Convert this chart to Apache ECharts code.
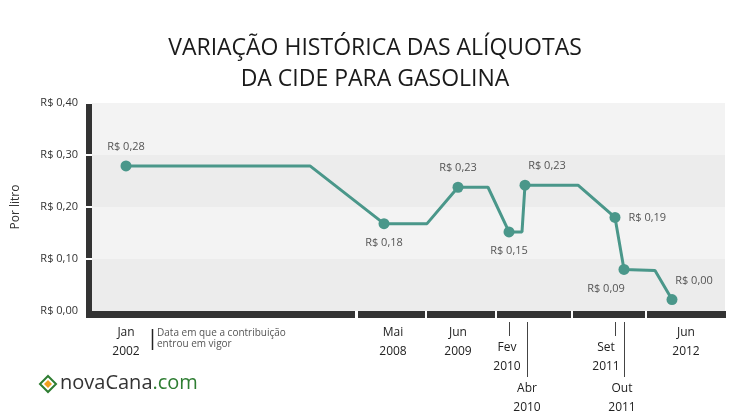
<!DOCTYPE html>
<html><head><meta charset="utf-8">
<script src="https://cdn.jsdelivr.net/npm/echarts@6/dist/echarts.min.js"></script>
<style>html,body{margin:0;background:#fff}#c{width:750px;height:418px}</style>
</head><body><div id="c"></div>
<script>
// path vertices (x in horizontal units, y in R$/litro)
var xs = [34, 218, 292, 335, 366, 396, 417, 430, 433, 486, 523, 532, 563, 580];
var ys = [0.279, 0.279, 0.168, 0.168, 0.238, 0.238, 0.152, 0.152, 0.242, 0.242, 0.180, 0.080, 0.078, 0.022];
var pointLabels = ['R$ 0,28', '', 'R$ 0,18', '', 'R$ 0,23', '', 'R$ 0,15', '', 'R$ 0,23', '', 'R$ 0,19', 'R$ 0,09', '', 'R$ 0,00'];
var labelPos = ['top', '', 'bottom', '', 'top', '', 'bottom', '', 'top', '', 'right', 'bottom', '', 'top'];
var yTicks = [0, 0.1, 0.2, 0.3, 0.4];
// bottom date labels
var dateX = [34, 301, 366, 417, 435, 523, 532, 594];
var dateText = ['Jan\n2002', 'Mai\n2008', 'Jun\n2009', 'Fev\n2010', 'Abr\n2010', 'Set\n2011', 'Out\n2011', 'Jun\n2012'];
var dateTop = [323, 323, 323, 338, 379, 338, 379, 323];
var dateLine = [false, false, false, true, true, true, true, false];
var barBreaks = [265, 334, 404, 480, 554];

var chart = echarts.init(document.getElementById('c'));
var font = '"Open Sans", sans-serif';

var data = xs.map(function (x, i) {
  var d = { value: [x, ys[i]] };
  if (pointLabels[i]) {
    d.symbolSize = 11;
    d.label = { show: true, formatter: pointLabels[i], position: labelPos[i], distance: 8 };
    if (i === 11) d.label.offset = [-18, 0];
    if (i === 8 || i === 13) d.label.offset = [22, 0];
  } else {
    d.symbolSize = 0;
  }
  return d;
});

chart.setOption({
  animation: false,
  title: {
    text: 'VARIAÇÃO HISTÓRICA DAS ALÍQUOTAS\nDA CIDE PARA GASOLINA',
    left: 'center', top: 28,
    textStyle: { fontFamily: font, fontWeight: 'normal', fontSize: 23, color: '#1a1a1a', lineHeight: 31 }
  },
  grid: { left: 92, right: 25, top: 103, bottom: 107 },
  xAxis: {
    type: 'value', min: 0, max: 633,
    axisLine: { show: false }, axisTick: { show: false }, axisLabel: { show: false }, splitLine: { show: false }
  },
  yAxis: {
    type: 'value', min: 0, max: 0.4, interval: 0.1,
    name: 'Por litro', nameLocation: 'middle', nameGap: 70,
    nameTextStyle: { fontFamily: font, fontSize: 12, color: '#333' },
    axisLine: { show: false }, axisTick: { show: false },
    axisLabel: { margin: 14, fontFamily: font, fontSize: 11, color: '#333',
      formatter: function (v) { return 'R$ ' + v.toFixed(2).replace('.', ','); } },
    splitLine: { show: false },
    splitArea: { show: true, areaStyle: { color: ['#ececec', '#f3f3f3'] } }
  },
  series: [{
    type: 'line', data: data, symbol: 'circle',
    lineStyle: { color: '#4a978a', width: 3 },
    itemStyle: { color: '#4a978a' },
    label: { fontFamily: font, fontSize: 11, color: '#555' }
  }]
});

var g = [];
var p0 = chart.convertToPixel({ gridIndex: 0 }, [0, 0]);
var left = p0[0], bottom = p0[1];
// segmented left bar
for (var i = 0; i < yTicks.length - 1; i++) {
  var ya = chart.convertToPixel({ gridIndex: 0 }, [0, yTicks[i]])[1];
  var yb = chart.convertToPixel({ gridIndex: 0 }, [0, yTicks[i + 1]])[1];
  g.push({ type: 'rect', shape: { x: left - 6, y: yb + 1, width: 6, height: ya - yb - 2 + (i === 0 ? 7 : 0) },
    style: { fill: '#333' } });
}
// segmented bottom bar
var edges = [0].concat(barBreaks, [633]);
for (var j = 0; j < edges.length - 1; j++) {
  var xa = chart.convertToPixel({ gridIndex: 0 }, [edges[j], 0])[0];
  var xb = chart.convertToPixel({ gridIndex: 0 }, [edges[j + 1], 0])[0];
  g.push({ type: 'rect', shape: { x: (j === 0 ? left - 6 : xa + 1), y: bottom, width: xb - xa - 2 + (j === 0 ? 6 : 0) + (j === edges.length - 2 ? 2 : 0), height: 7 },
    style: { fill: '#333' } });
}
// date labels
dateX.forEach(function (x, k) {
  var px = chart.convertToPixel({ gridIndex: 0 }, [x, 0])[0];
  var tx = px;
  if (k === 3) tx = px - 2;
  if (k === 5) tx = px - 9;
  if (k === 6) tx = px - 2;
  g.push({ type: 'text', x: tx, y: dateTop[k], style: { text: dateText[k], fontFamily: font, fontSize: 12,
    fill: '#222', align: 'center', lineHeight: 19 } });
  if (dateLine[k]) {
    g.push({ type: 'line', shape: { x1: px + 0.5, y1: 322, x2: px + 0.5, y2: dateTop[k] - 2 }, style: { stroke: '#444', lineWidth: 1 } });
  }
});
// note
g.push({ type: 'line', shape: { x1: 152.5, y1: 329, x2: 152.5, y2: 350 }, style: { stroke: '#222', lineWidth: 1.5 } });
g.push({ type: 'text', x: 157, y: 328, style: { text: 'Data em que a contribuição\nentrou em vigor', fontFamily: font,
  fontSize: 10, fill: '#555', lineHeight: 11 } });
// logo
g.push({ type: 'polygon', shape: { points: [[48, 376], [56, 384], [48, 392], [40, 384]] }, style: { fill: 'none', stroke: '#2e7d32', lineWidth: 2 } });
g.push({ type: 'polygon', shape: { points: [[48, 380], [52, 384], [48, 388], [44, 384]] }, style: { fill: '#f0a020' } });
g.push({ type: 'text', x: 60, y: 373, style: { rich: {
  a: { fontFamily: font, fontSize: 20, fill: '#333' }, b: { fontFamily: font, fontSize: 20, fill: '#2e7d32' } },
  text: '{a|novaCana}{b|.com}' } });
chart.setOption({ graphic: g });
</script></body></html>
